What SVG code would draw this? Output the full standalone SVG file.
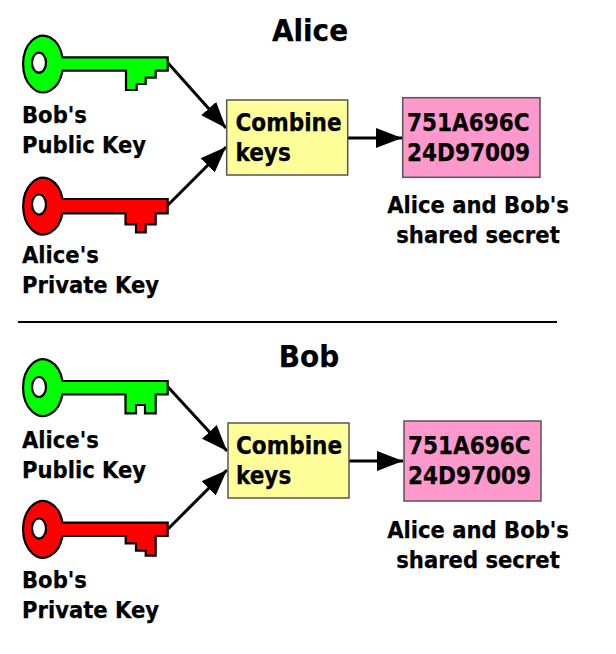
<svg xmlns="http://www.w3.org/2000/svg" width="616" height="654" viewBox="0 0 616 654">
<style>
text{font-family:"DejaVu Sans","Liberation Sans",sans-serif;font-weight:700;font-stretch:condensed;fill:#000;stroke:#000;stroke-width:.25}
.l{font-size:23.500px}
.x{font-size:24px}
.t{font-size:31px;text-anchor:middle}
.m{text-anchor:middle;font-size:23.500px}
.key{stroke:#000;stroke-width:2.200;stroke-linejoin:miter}
.g{fill:#0f0}
.r{fill:#f00}
.h{fill:#fff;stroke:#000;stroke-width:2.200}
.y{fill:#ffff99;stroke:#555;stroke-width:1.500}
.p{fill:#ff99cc;stroke:#555;stroke-width:1.500}
.c{stroke:#000;stroke-width:3;fill:none;marker-end:url(#a)}
</style>
<defs>
<marker id="a" markerUnits="userSpaceOnUse" markerWidth="27" markerHeight="22" refX="26" refY="11" orient="auto"><path d="M0 1L26 11L0 21z" fill="#000"/></marker>
</defs>
<text class="t" x="310" y="41">Alice</text>
<text class="t" x="309" y="367">Bob</text>
<path d="M18 322H557" stroke="#000" stroke-width="2"/>
<g id="connectors">
<path class="c" d="M168 63L226 128"/>
<path class="c" d="M168 205L226 147"/>
<path class="c" d="M348 138H402"/>
<path class="c" d="M168 387L227 451"/>
<path class="c" d="M168 529L227 470"/>
<path class="c" d="M349 461H403"/>
</g>
<g id="alice-public-key">
<path class="key g" d="M62.500 57.300H167.700V70.700H155.700V77.700H145.700V84H136.700V90H126V70.700H62.500A20 28.300 0 1 1 62.500 57.300Z"/>
<ellipse class="h" cx="39" cy="62.700" rx="7" ry="10"/>
<text class="l" x="22" y="123">Bob's</text><text class="l" x="22" y="153">Public Key</text>
</g>
<g id="alice-private-key">
<path class="key r" d="M62.500 199H167.700V213.300H155.700V224.300H145.700V232.300H136V224.300H125.500V213.300H62.500A20 28.300 0 1 1 62.500 199Z"/>
<ellipse class="h" cx="39" cy="204.500" rx="7" ry="10"/>
<text class="l" x="22" y="263">Alice's</text><text class="l" x="22" y="293">Private Key</text>
</g>
<g id="alice-combine"><rect class="y" x="226.700" y="100" width="121" height="75"/>
<text class="x" x="235.500" y="131">Combine</text><text class="x" x="235.500" y="161">keys</text></g>
<g id="alice-secret"><rect class="p" x="402.700" y="97.700" width="137.300" height="79.600"/>
<text class="x" x="407" y="131">751A696C</text><text class="x" x="407" y="161">24D97009</text></g>
<text class="m" x="478" y="213">Alice and Bob's</text><text class="m" x="478" y="243">shared secret</text>
<g id="bob-public-key">
<path class="key g" d="M62.500 381H167.700V394.300H155.700V413.300H145V405H136V413.300H125.500V394.300H62.500A20 28.300 0 1 1 62.500 381Z"/>
<ellipse class="h" cx="39" cy="387" rx="7" ry="10"/>
<text class="l" x="22" y="448">Alice's</text><text class="l" x="22" y="478">Public Key</text>
</g>
<g id="bob-private-key">
<path class="key r" d="M62.500 522.700H167.700V536H155.700V555.700H145.700V550.700H136V543.300H125.700V536H62.500A20 28.300 0 1 1 62.500 522.700Z"/>
<ellipse class="h" cx="39" cy="528.500" rx="7" ry="10"/>
<text class="l" x="22" y="588">Bob's</text><text class="l" x="22" y="618">Private Key</text>
</g>
<g id="bob-combine"><rect class="y" x="228" y="423" width="121" height="75"/>
<text class="x" x="236" y="454">Combine</text><text class="x" x="236" y="484">keys</text></g>
<g id="bob-secret"><rect class="p" x="404" y="421" width="137" height="80"/>
<text class="x" x="408" y="454">751A696C</text><text class="x" x="408" y="484">24D97009</text></g>
<text class="m" x="478" y="538">Alice and Bob's</text><text class="m" x="478" y="568">shared secret</text>
</svg>
